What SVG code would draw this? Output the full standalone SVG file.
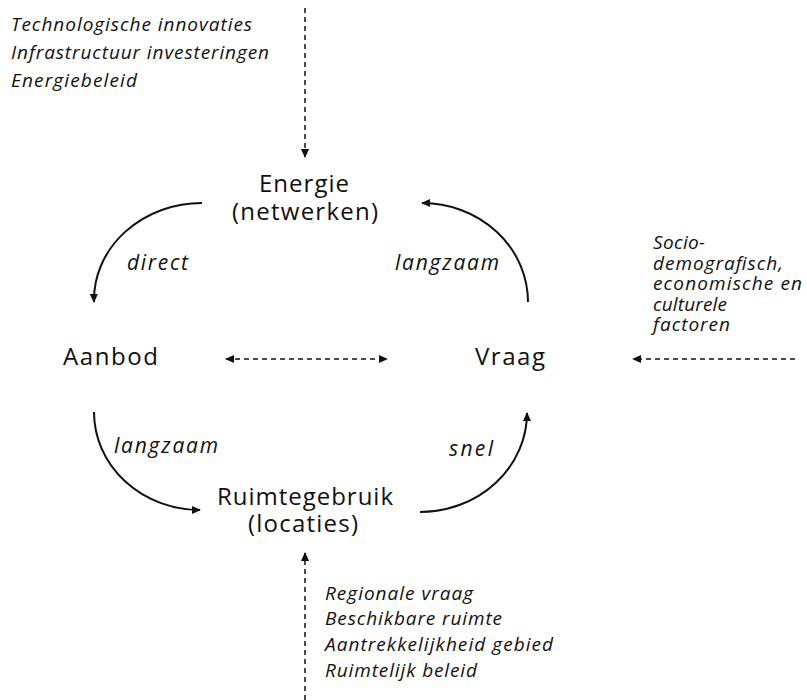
<svg xmlns="http://www.w3.org/2000/svg" width="807" height="700" viewBox="0 0 807 700">
<defs>
<marker id="ah" viewBox="0 0 10 10" refX="9" refY="5" markerWidth="9" markerHeight="9" markerUnits="userSpaceOnUse" orient="auto-start-reverse">
<path d="M0,0.5 L10,5 L0,9.5 Z" fill="#111"/>
</marker>
<style>
.node{font-family:"Open Sans","Noto Sans",sans-serif;font-size:24px;fill:#111}
.lbl{font-family:"Open Sans","Noto Sans",sans-serif;font-size:19px;font-style:italic;fill:#111}
.arc{font-family:"Open Sans","Noto Sans",sans-serif;font-size:21px;font-style:italic;fill:#111}
.solid{fill:none;stroke:#111;stroke-width:2;marker-end:url(#ah)}
.dash{fill:none;stroke:#111;stroke-width:1.5;stroke-dasharray:5 4}
</style>
</defs>
<rect width="807" height="700" fill="#fff"/>
<g id="connectors">
<path class="solid" d="M202,203 A108,97 0 0 0 94,302"/>
<path class="solid" d="M528,302 A106,99 0 0 0 422,203"/>
<path class="solid" d="M94,412 A106,98 0 0 0 200,510"/>
<path class="solid" d="M420,512 A107,99 0 0 0 527,413"/>
<path class="dash" d="M305,8 L305,157" marker-end="url(#ah)"/>
<path class="dash" d="M226,359 L387,359" marker-start="url(#ah)" marker-end="url(#ah)"/>
<path class="dash" d="M795,359 L633,359" marker-end="url(#ah)"/>
<path class="dash" d="M305,700 L305,553" marker-end="url(#ah)"/>
</g>
<g id="node-energie"><text class="node" x="259" y="192" textLength="90" lengthAdjust="spacing">Energie</text><text class="node" x="232" y="220" textLength="146" lengthAdjust="spacing">(netwerken)</text></g>
<g id="node-aanbod"><text class="node" x="63" y="365" textLength="95" lengthAdjust="spacing">Aanbod</text></g>
<g id="node-vraag"><text class="node" x="475" y="365" textLength="70" lengthAdjust="spacing">Vraag</text></g>
<g id="node-ruimtegebruik"><text class="node" x="217" y="505" textLength="176" lengthAdjust="spacing">Ruimtegebruik</text><text class="node" x="248" y="532" textLength="110" lengthAdjust="spacing">(locaties)</text></g>
<g id="labels">
<text class="arc" x="127" y="270" textLength="61" lengthAdjust="spacing">direct</text>
<text class="arc" x="395" y="270" textLength="104" lengthAdjust="spacing">langzaam</text>
<text class="arc" x="114" y="453" textLength="104" lengthAdjust="spacing">langzaam</text>
<text class="arc" x="449" y="456" textLength="44" lengthAdjust="spacing">snel</text>
</g>
<g id="factors-top">
<text class="lbl" x="11" y="31" textLength="241" lengthAdjust="spacing">Technologische innovaties</text>
<text class="lbl" x="11" y="59" textLength="258" lengthAdjust="spacing">Infrastructuur investeringen</text>
<text class="lbl" x="11" y="87" textLength="126" lengthAdjust="spacing">Energiebeleid</text>
</g>
<g id="factors-right">
<text class="lbl" x="653" y="249" textLength="52" lengthAdjust="spacing">Socio-</text>
<text class="lbl" x="653" y="270" textLength="130" lengthAdjust="spacing">demografisch,</text>
<text class="lbl" x="653" y="290" textLength="149" lengthAdjust="spacing">economische en</text>
<text class="lbl" x="653" y="311" textLength="74" lengthAdjust="spacing">culturele</text>
<text class="lbl" x="653" y="331" textLength="77" lengthAdjust="spacing">factoren</text>
</g>
<g id="factors-bottom">
<text class="lbl" x="325" y="600" textLength="148" lengthAdjust="spacing">Regionale vraag</text>
<text class="lbl" x="325" y="625" textLength="177" lengthAdjust="spacing">Beschikbare ruimte</text>
<text class="lbl" x="325" y="651" textLength="228" lengthAdjust="spacing">Aantrekkelijkheid gebied</text>
<text class="lbl" x="325" y="677" textLength="152" lengthAdjust="spacing">Ruimtelijk beleid</text>
</g>
</svg>
